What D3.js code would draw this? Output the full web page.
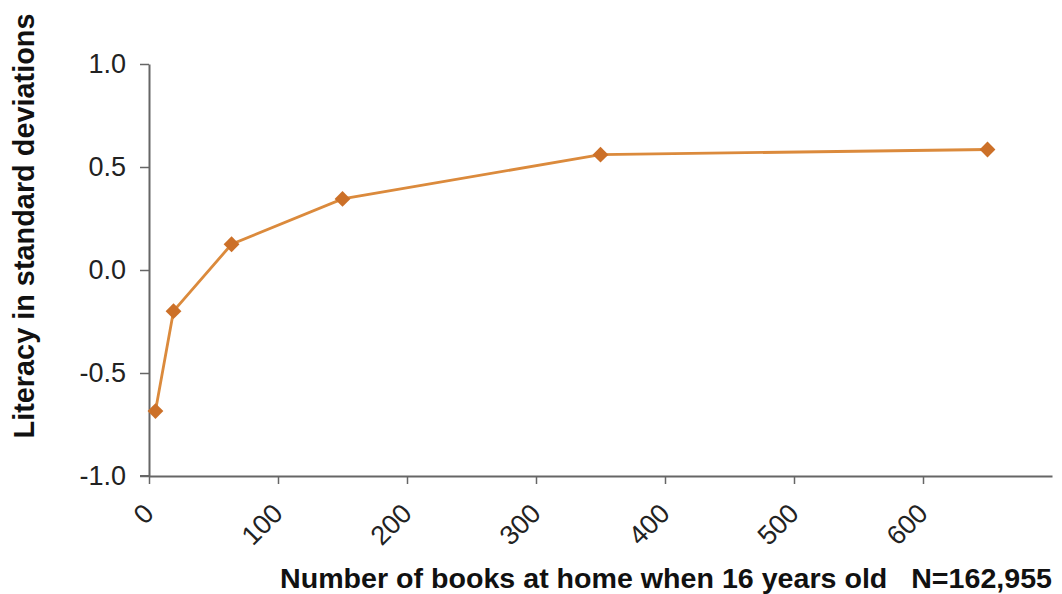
<!DOCTYPE html>
<html>
<head>
<meta charset="utf-8">
<script src="https://cdn.jsdelivr.net/npm/d3@7"></script>
<style>
  body { margin: 0; background: #fff; }
  text { font-family: "Liberation Sans", Arial, sans-serif; }
</style>
</head>
<body>
<div id="chart"></div>
<script>
// books at home (x) vs literacy in SD (y)
const books = [5, 19, 64, 150, 350, 650];
const literacy = [-0.685, -0.2, 0.125, 0.345, 0.56, 0.585];
const xTicks = [0, 100, 200, 300, 400, 500, 600];
const yTicks = [-1.0, -0.5, 0.0, 0.5, 1.0];

var width = 1062;
var height = 594;

var svg = d3.select("#chart").append("svg")
  .attr("width", width)
  .attr("height", height);

svg.append("rect")
  .attr("width", "100%")
  .attr("height", "100%")
  .attr("fill", "#fff");

var x = d3.scaleLinear().domain([0, 700]).range([149, 1052]);
var y = d3.scaleLinear().domain([-1, 1]).range([476, 64]);

// y axis
var yAxis = svg.append("g")
  .attr("transform", "translate(" + x(0) + ",0)")
  .call(d3.axisLeft(y).tickValues(yTicks).tickSize(9).tickSizeOuter(0).tickPadding(14));
yAxis.select(".domain").attr("stroke", "#666").attr("stroke-width", 2);
yAxis.selectAll(".tick line").attr("stroke", "#666").attr("stroke-width", 1.5);
yAxis.selectAll(".tick text")
  .attr("fill", "#222")
  .style("font-size", "27px")
  .text(d => d3.format(".1f")(d).replace("−", "-"));

// x axis
var xAxis = svg.append("g")
  .attr("transform", "translate(0," + y(-1) + ")")
  .call(d3.axisBottom(x).tickValues(xTicks).tickSize(8).tickSizeOuter(0));
xAxis.select(".domain").attr("stroke", "#666").attr("stroke-width", 2);
xAxis.selectAll(".tick line").attr("stroke", "#666").attr("stroke-width", 1.5);
xAxis.selectAll(".tick text")
  .attr("fill", "#222")
  .style("font-size", "27px")
  .attr("text-anchor", "end")
  .attr("dy", null)
  .attr("y", null)
  .attr("transform", "translate(6,39) rotate(-45)");

// -1.0 tick sticks out to the left of the y axis
svg.append("line")
  .attr("x1", x(0) - 9).attr("x2", x(0))
  .attr("y1", y(-1)).attr("y2", y(-1))
  .attr("stroke", "#666").attr("stroke-width", 2);

// line + markers
var pts = books.map((b, i) => [b, literacy[i]]);
svg.append("path")
  .datum(pts)
  .attr("fill", "none")
  .attr("stroke", "#DB8A3C")
  .attr("stroke-width", 2.8)
  .attr("d", d3.line().x(d => x(d[0])).y(d => y(d[1])));

svg.selectAll(".marker")
  .data(pts)
  .enter()
  .append("path")
  .attr("class", "marker")
  .attr("d", d3.symbol().type(d3.symbolSquare).size(125))
  .attr("transform", d => "translate(" + x(d[0]) + "," + y(d[1]) + ") rotate(45)")
  .attr("fill", "#CC7028");

// axis titles
svg.append("text")
  .attr("transform", "translate(34,226) rotate(-90)")
  .attr("text-anchor", "middle")
  .attr("textLength", 425)
  .attr("lengthAdjust", "spacingAndGlyphs")
  .style("font-size", "29px")
  .style("font-weight", "bold")
  .attr("fill", "#111")
  .text("Literacy in standard deviations");

svg.append("text")
  .attr("x", 280)
  .attr("y", 588)
  .attr("textLength", 772)
  .attr("lengthAdjust", "spacingAndGlyphs")
  .style("font-size", "28px")
  .style("font-weight", "bold")
  .attr("fill", "#111")
  .style("white-space", "pre")
  .text("Number of books at home when 16 years old   N=162,955");
</script>
</body>
</html>
